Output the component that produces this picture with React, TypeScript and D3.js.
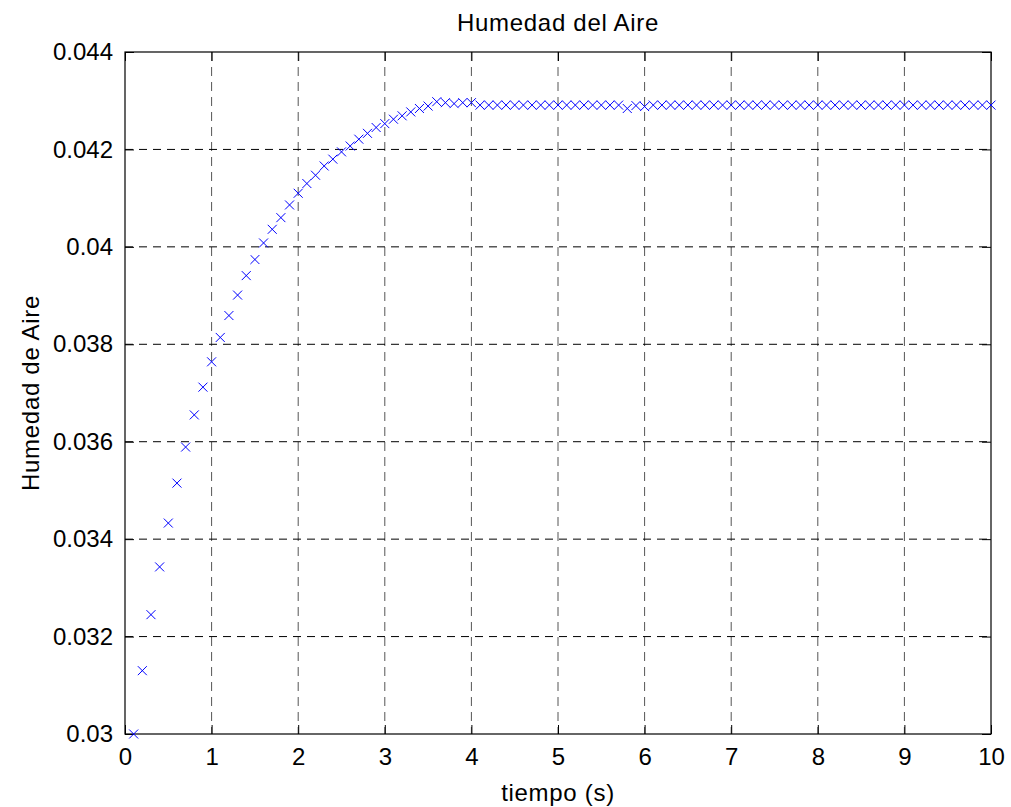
import React, { useEffect, useRef } from 'react';
import * as d3 from 'd3';

// time samples (s)
const tiempo = [
  0.1, 0.2, 0.3, 0.4, 0.5, 0.6, 0.7, 0.8, 0.9, 1.0,
  1.1, 1.2, 1.3, 1.4, 1.5, 1.6, 1.7, 1.8, 1.9, 2.0,
  2.1, 2.2, 2.3, 2.4, 2.5, 2.6, 2.7, 2.8, 2.9, 3.0,
  3.1, 3.2, 3.3, 3.4, 3.5, 3.6, 3.7, 3.8, 3.9, 4.0,
  4.1, 4.2, 4.3, 4.4, 4.5, 4.6, 4.7, 4.8, 4.9, 5.0,
  5.1, 5.2, 5.3, 5.4, 5.5, 5.6, 5.7, 5.8, 5.9, 6.0,
  6.1, 6.2, 6.3, 6.4, 6.5, 6.6, 6.7, 6.8, 6.9, 7.0,
  7.1, 7.2, 7.3, 7.4, 7.5, 7.6, 7.7, 7.8, 7.9, 8.0,
  8.1, 8.2, 8.3, 8.4, 8.5, 8.6, 8.7, 8.8, 8.9, 9.0,
  9.1, 9.2, 9.3, 9.4, 9.5, 9.6, 9.7, 9.8, 9.9, 10.0,
];

// humidity
const humedad = [
  0.03000, 0.03130, 0.03245, 0.03343, 0.03433, 0.03515, 0.03589, 0.03655, 0.03712, 0.03764,
  0.03814, 0.03859, 0.03901, 0.03941, 0.03974, 0.04008, 0.04036, 0.04060, 0.04086, 0.04110,
  0.04130, 0.04147, 0.04166, 0.04180, 0.04195, 0.04207, 0.04221, 0.04233, 0.04245, 0.04253,
  0.04262, 0.04269, 0.04277, 0.04284, 0.04289, 0.04298, 0.04296, 0.04294, 0.04296, 0.04296,
  0.04291, 0.04291, 0.04291, 0.04291, 0.04291, 0.04291, 0.04291, 0.04291, 0.04291, 0.04291,
  0.04291, 0.04291, 0.04291, 0.04291, 0.04291, 0.04291, 0.04291, 0.04284, 0.04290, 0.04288,
  0.04291, 0.04291, 0.04291, 0.04291, 0.04291, 0.04291, 0.04291, 0.04291, 0.04291, 0.04291,
  0.04291, 0.04291, 0.04291, 0.04291, 0.04291, 0.04291, 0.04291, 0.04291, 0.04291, 0.04291,
  0.04291, 0.04291, 0.04291, 0.04291, 0.04291, 0.04291, 0.04291, 0.04291, 0.04291, 0.04291,
  0.04291, 0.04291, 0.04291, 0.04291, 0.04291, 0.04291, 0.04291, 0.04291, 0.04291, 0.04291,
];

const xTicks = [0, 1, 2, 3, 4, 5, 6, 7, 8, 9, 10];
const yTicks = [0.03, 0.032, 0.034, 0.036, 0.038, 0.04, 0.042, 0.044];
const yTickLabels = ['0.03', '0.032', '0.034', '0.036', '0.038', '0.04', '0.042', '0.044'];

const App = () => {
  const svgRef = useRef<SVGSVGElement>(null);

  useEffect(() => {
    const svg = d3.select(svgRef.current);
    svg.selectAll('*').remove();

    const margin = { top: 52, right: 20, bottom: 73, left: 125 };
    const width = 1011 - margin.left - margin.right;
    const height = 807 - margin.top - margin.bottom;
    const font = '"Liberation Sans", Arial, Helvetica, sans-serif';

    const x = d3.scaleLinear().domain([0, 10]).range([0, width]);
    const y = d3.scaleLinear().domain([0.03, 0.044]).range([height, 0]);

    const g = svg.append('g')
      .attr('transform', `translate(${margin.left},${margin.top})`);

    // grid
    g.append('g')
      .selectAll('line')
      .data(xTicks.slice(1, -1))
      .enter().append('line')
      .attr('x1', d => x(d)).attr('x2', d => x(d))
      .attr('y1', 0).attr('y2', height)
      .attr('stroke', '#555')
      .attr('stroke-dasharray', '9,6');

    g.append('g')
      .selectAll('line')
      .data(yTicks.slice(1, -1))
      .enter().append('line')
      .attr('x1', 0).attr('x2', width)
      .attr('y1', d => y(d)).attr('y2', d => y(d))
      .attr('stroke', '#000')
      .attr('stroke-dasharray', '8,6');

    // axes box + inward ticks
    const tickLen = 9;
    const xAxisB = d3.axisBottom(x).tickValues(xTicks).tickSize(-tickLen).tickPadding(14)
      .tickFormat(d => String(d));
    const xAxisT = d3.axisTop(x).tickValues(xTicks).tickSize(-tickLen).tickFormat(() => '');
    const yAxisL = d3.axisLeft(y).tickValues(yTicks).tickSize(-tickLen).tickPadding(12)
      .tickFormat((d, i) => yTickLabels[i]);
    const yAxisR = d3.axisRight(y).tickValues(yTicks).tickSize(-tickLen).tickFormat(() => '');

    const styleAxis = sel => {
      sel.select('.domain').remove();
      sel.selectAll('line').attr('stroke', '#000');
      sel.selectAll('text')
        .attr('fill', '#000')
        .style('font-family', font)
        .style('font-size', '24px');
    };

    g.append('g').attr('transform', `translate(0,${height})`).call(xAxisB).call(styleAxis);
    g.append('g').call(xAxisT).call(styleAxis);
    g.append('g').call(yAxisL).call(styleAxis);
    g.append('g').attr('transform', `translate(${width},0)`).call(yAxisR).call(styleAxis);

    g.append('rect')
      .attr('width', width).attr('height', height)
      .attr('fill', 'none').attr('stroke', '#000').attr('stroke-width', 1.2);

    // markers (x)
    const data = tiempo.map((t, i) => ({ t, h: humedad[i] }));
    const s = 4.5;
    g.append('g')
      .selectAll('path')
      .data(data)
      .enter().append('path')
      .attr('d', d => {
        const cx = x(d.t), cy = y(d.h);
        return `M${cx - s},${cy - s}L${cx + s},${cy + s}M${cx - s},${cy + s}L${cx + s},${cy - s}`;
      })
      .attr('stroke', '#0000ff')
      .attr('stroke-width', 1)
      .attr('fill', 'none');

    // labels
    svg.append('text')
      .attr('x', margin.left + width / 2)
      .attr('y', 31)
      .attr('text-anchor', 'middle')
      .style('font-family', font).style('font-size', '24px').style('letter-spacing', '0.7px')
      .text('Humedad del Aire');

    svg.append('text')
      .attr('x', margin.left + width / 2)
      .attr('y', 801)
      .attr('text-anchor', 'middle')
      .style('font-family', font).style('font-size', '24px').style('letter-spacing', '0.7px')
      .text('tiempo (s)');

    svg.append('text')
      .attr('transform', `translate(39,${margin.top + height / 2}) rotate(-90)`)
      .attr('text-anchor', 'middle')
      .style('font-family', font).style('font-size', '24px').style('letter-spacing', '0.7px')
      .text('Humedad de Aire');
  }, []);

  return (
    <svg ref={svgRef} width={1011} height={807}
      style={{ position: 'absolute', left: 0, top: 0, background: '#fff' }} />
  );
};

export default App;
